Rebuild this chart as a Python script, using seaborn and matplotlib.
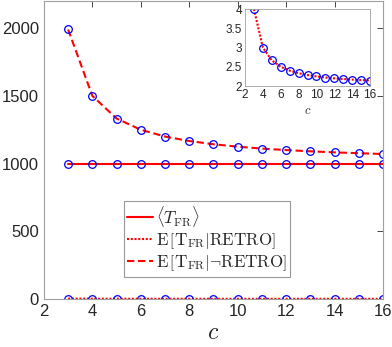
import numpy as np
import pandas as pd
import matplotlib
matplotlib.use('Agg')
import matplotlib.pyplot as plt
import seaborn as sns

# values
c_vals = [3, 4, 5, 6, 7, 8, 9, 10, 11, 12, 13, 14, 15, 16]
t_mean = [1000] * 14
t_retro = [4.0, 3.0, 2.667, 2.5, 2.4, 2.333, 2.286, 2.25, 2.222, 2.2, 2.182, 2.167, 2.154, 2.143]
t_not_retro = [1990, 1500, 1333, 1250, 1200, 1167, 1143, 1125, 1111, 1100, 1091, 1083, 1077, 1071]
x_ticks = [2, 4, 6, 8, 10, 12, 14, 16]
y_ticks = [0, 500, 1000, 1500, 2000]
inset_y_ticks = [2, 2.5, 3, 3.5, 4]
labels = [r'$\langle T_{\mathrm{FR}}\rangle$',
          r'$\mathrm{E}\,\left[\mathrm{T}_{\mathrm{FR}}|\mathrm{RETRO}\right]$',
          r'$\mathrm{E}\,\left[\mathrm{T}_{\mathrm{FR}}|\neg\mathrm{RETRO}\right]$']

sns.set_style('white')
plt.rcParams['font.family'] = ['Liberation Sans', 'DejaVu Sans']
plt.rcParams['mathtext.fontset'] = 'cm'
axcol = '#262626'

df = pd.DataFrame({'c': c_vals, 'mean': t_mean, 'retro': t_retro, 'notretro': t_not_retro})

fig = plt.figure(figsize=(3.92, 3.47), dpi=100)
ax = fig.add_axes([0.112, 0.138, 0.865, 0.859])

styles = [('mean', '-', None), ('retro', ':', (1, 0.8)), ('notretro', '--', (3.5, 1.8))]
for (col, ls, dash), lab in zip(styles, labels):
    sns.lineplot(data=df, x='c', y=col, ax=ax, color='red', linestyle=ls, lw=1.5, label=lab)
    if dash is not None:
        ax.lines[-1].set_dashes(dash)
for col, ls, dash in styles:
    ax.plot(df['c'], df[col], linestyle='none', marker='o', ms=5.5, mfc='none', mec='blue', mew=0.9)

ax.set_xlim(2, 16)
ax.set_ylim(0, 2200)
ax.set_xticks(x_ticks)
ax.set_yticks(y_ticks)
ax.set_xlabel('$c$', fontsize=17, labelpad=2)
ax.set_ylabel('')
ax.tick_params(direction='in', top=True, right=True, labelsize=12, colors=axcol, length=4, width=0.6)
for s in ax.spines.values():
    s.set_color('#a0a0a0')
    s.set_linewidth(0.8)

leg = ax.legend(loc='upper left', bbox_to_anchor=(0.236, 0.33), fontsize=12.2, frameon=True,
                fancybox=False, edgecolor='#808080', handlelength=1.5, handletextpad=0.2,
                borderpad=0.2, labelspacing=0.12, borderaxespad=0)
leg.get_frame().set_linewidth(0.8)

# inset
ins = fig.add_axes([0.625, 0.752, 0.319, 0.222])
sns.lineplot(data=df, x='c', y='retro', ax=ins, color='red', linestyle=':', lw=1.5)
ins.lines[-1].set_dashes((1, 0.8))
ins.plot(df['c'], df['retro'], linestyle='none', marker='o', ms=5.5, mfc='none', mec='blue', mew=0.9)
ins.set_xlim(2, 16)
ins.set_ylim(2, 4)
ins.set_xticks(x_ticks)
ins.set_yticks(inset_y_ticks)
ins.set_yticklabels(['2', '2.5', '3', '3.5', '4'])
ins.set_xlabel('$c$', fontsize=9, labelpad=3)
ins.set_ylabel('')
ins.tick_params(direction='in', labelsize=8.5, colors=axcol, length=2.5, width=0.5, pad=2)
for s in ins.spines.values():
    s.set_color('#a0a0a0')
    s.set_linewidth(0.6)

fig.savefig('out.png', dpi=100)
